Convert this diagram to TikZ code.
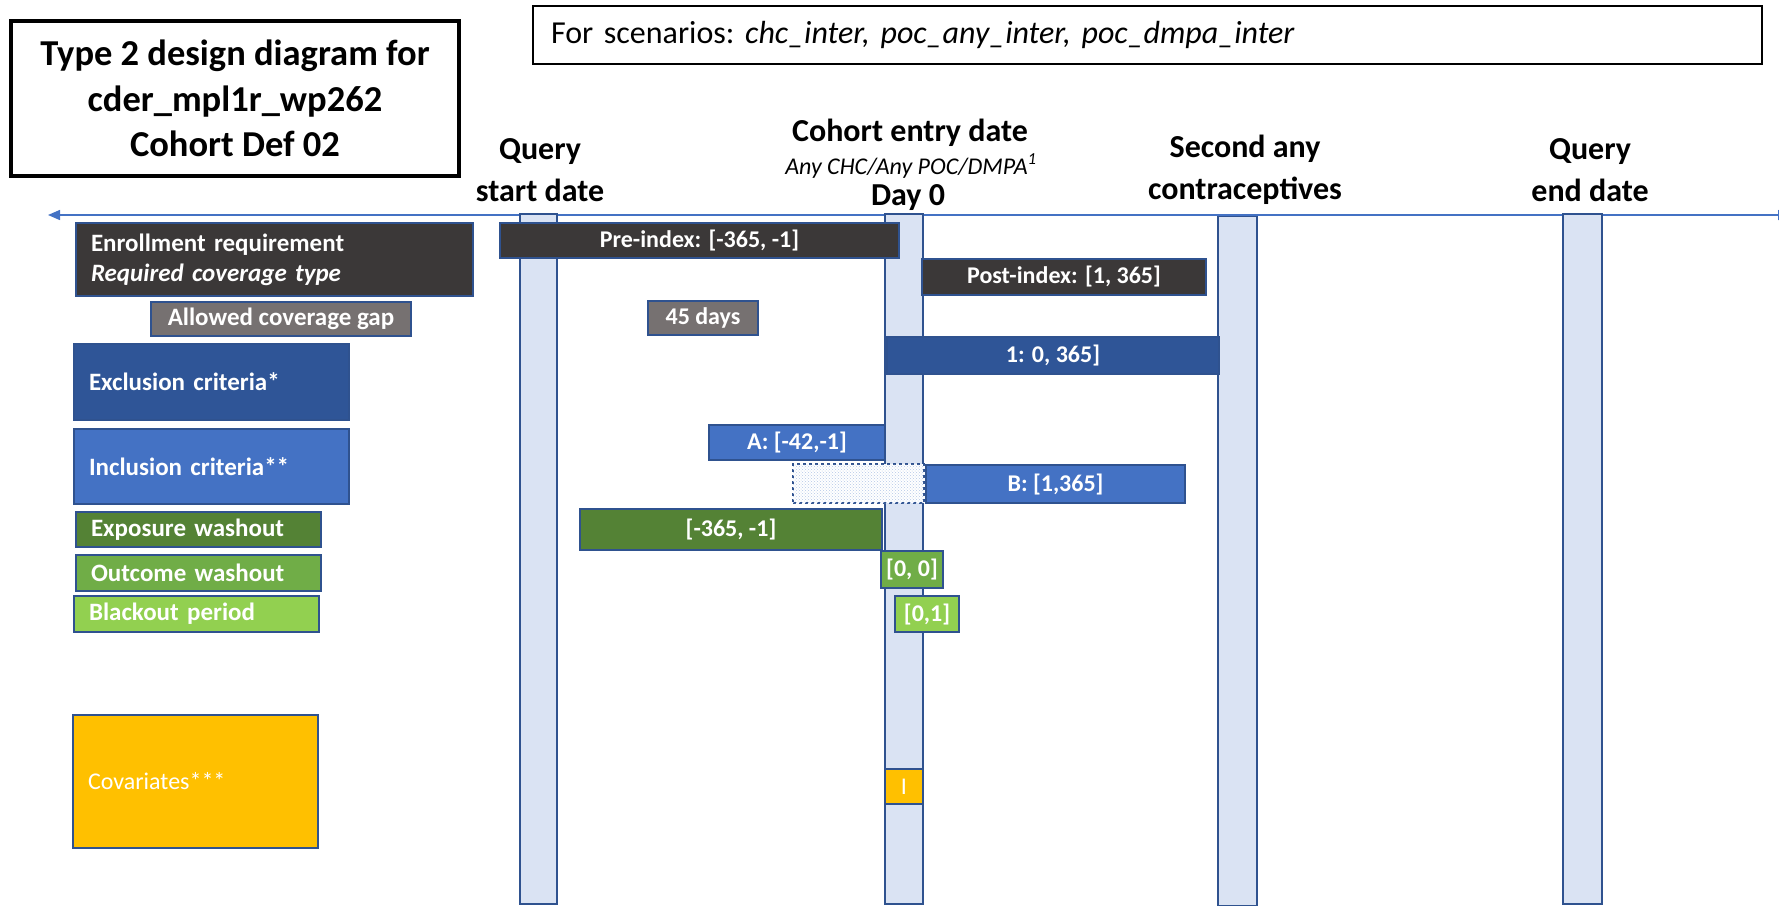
\documentclass[tikz,border=0pt]{standalone}
\usepackage{fontspec}
\setmainfont{Carlito}
\usetikzlibrary{arrows.meta,patterns}

\definecolor{edgeblue}{HTML}{2F528F}
\definecolor{lineblue}{HTML}{4472C4}
\definecolor{vfill}{HTML}{DAE3F3}
\definecolor{darkgrey}{HTML}{3B3838}
\definecolor{gapgrey}{HTML}{767171}
\definecolor{exclblue}{HTML}{2F5597}
\definecolor{inclblue}{HTML}{4472C4}
\definecolor{expogreen}{HTML}{548235}
\definecolor{outgreen}{HTML}{70AD47}
\definecolor{blackgreen}{HTML}{92D050}
\definecolor{covgold}{HTML}{FFC000}
\definecolor{dotblue}{HTML}{B4C7E7}

\tikzset{
  vbar/.style={draw=edgeblue, line width=1.5pt, fill=vfill, inner sep=0pt},
  rowbox/.style={draw=edgeblue, line width=1.5pt, text=white, inner sep=0pt,
    font=\bfseries\fontsize{24}{28}\selectfont},
  rowlabel/.style={rowbox, align=left, inner xsep=15pt,
    font=\bfseries\fontsize{25}{30}\selectfont},
  heading/.style={font=\bfseries\fontsize{32}{42}\selectfont, align=center, inner sep=0pt},
}

\begin{document}
\begin{tikzpicture}[x=1pt,y=-1pt]
\useasboundingbox (0,0) rectangle (1779,906);

% Title and scenarios
\node[draw, line width=4pt, minimum width=448pt, minimum height=155pt, align=center,
  font=\bfseries\fontsize{36.5}{45.5}\selectfont] (title) at (235,98.5)
  {Type 2 design diagram for\\cder\_mpl1r\_wp262\\Cohort Def 02};
\node[draw, line width=2pt, minimum width=1229pt, minimum height=58pt, text width=1193pt,
  inner xsep=18pt, align=left, font=\fontsize{32}{40}\selectfont] (scen) at (1147.5,35)
  {For scenarios:\ \textit{chc\_inter, poc\_any\_inter, poc\_dmpa\_inter}};

% Timeline
\coordinate (tl) at (48,215);
\coordinate (tr) at (1790,215);
\draw[lineblue, line width=1.5pt, {Triangle[length=12pt,width=10pt]}-{Triangle[length=12pt,width=10pt]}] (tl) -- (tr);

% Vertical bars
\node[vbar, minimum width=37pt, minimum height=690pt] (qsbar) at (538.5,559) {};
\node[vbar, minimum width=38pt, minimum height=690pt] (daybar) at (904,559) {};
\node[vbar, minimum width=39pt, minimum height=689pt] (secbar) at (1237.5,561) {};
\node[vbar, minimum width=39pt, minimum height=690pt] (qebar) at (1582.5,559) {};

% Headings
\node[heading] (qslbl) at (540,170) {Query\\start date};
\node[heading, anchor=base] (celbl) at (910,141) {Cohort entry date};
\node[anchor=base, inner sep=0pt, font=\itshape\fontsize{24}{28}\selectfont] (cesub) at (911,174)
  {Any CHC/Any POC/DMPA\textsuperscript{1}};
\node[heading, anchor=base] (daylbl) at (908,205) {Day 0};
\node[heading] (seclbl) at (1245,170) {Second any\\contraceptives};
\node[heading] (qelbl) at (1590,170) {Query\\end date};

% Enrollment
\node[rowlabel, fill=darkgrey, minimum width=397pt, minimum height=73pt, text width=367pt] (enrl) at (274.5,259.5)
  {Enrollment requirement\\\textit{Required coverage type}};
\node[rowbox, fill=darkgrey, minimum width=399pt, minimum height=35pt] (pre) at (699.5,240.5) {Pre-index: [-365, -1]};
\node[rowbox, fill=darkgrey, minimum width=284pt, minimum height=36pt] (post) at (1064,277) {Post-index: [1, 365]};
\node[rowbox, fill=gapgrey, minimum width=260pt, minimum height=34pt, font=\bfseries\fontsize{25}{30}\selectfont] (gap) at (281,319) {Allowed coverage gap};
\node[rowbox, fill=gapgrey, minimum width=110pt, minimum height=34pt] (gapdays) at (703,318) {45 days};

% Exclusion / inclusion
\node[rowlabel, fill=exclblue, minimum width=275pt, minimum height=76pt, text width=245pt] (excl) at (211.5,382) {Exclusion criteria*};
\node[rowbox, fill=exclblue, minimum width=332pt, minimum height=37pt] (exone) at (1053,355.5) {1: 0, 365]};
\node[rowlabel, fill=inclblue, minimum width=275pt, minimum height=75pt, text width=245pt] (incl) at (211.5,466.5) {Inclusion criteria**};
\node[rowbox, fill=inclblue, minimum width=176pt, minimum height=35pt] (inca) at (797,442.5) {A: [-42,-1]};
\node[draw=edgeblue, line width=1.5pt, dashed, fill=white, postaction={pattern=crosshatch dots, pattern color=dotblue},
  minimum width=131pt, minimum height=39pt, inner sep=0pt] (incgap) at (858.5,483.5) {};
\node[rowbox, fill=inclblue, minimum width=259pt, minimum height=38pt] (incb) at (1055.5,484) {B: [1,365]};

% Washouts
\node[rowlabel, fill=expogreen, minimum width=245pt, minimum height=35pt, text width=215pt] (expo) at (198.5,529.5) {Exposure washout};
\node[rowbox, fill=expogreen, minimum width=302pt, minimum height=41pt] (expow) at (731,529.5) {[-365, -1]};
\node[rowlabel, fill=outgreen, minimum width=245pt, minimum height=36pt, text width=215pt] (outc) at (198.5,573) {Outcome washout};
\node[rowbox, fill=outgreen, minimum width=62pt, minimum height=37pt] (outw) at (912,569.5) {[0, 0]};
\node[rowlabel, fill=blackgreen, minimum width=245pt, minimum height=36pt, text width=215pt] (blk) at (196.5,614) {Blackout period};
\node[rowbox, fill=blackgreen, minimum width=64pt, minimum height=36pt] (blkw) at (927,614) {[0,1]};

% Covariates
\node[rowlabel, fill=covgold, minimum width=245pt, minimum height=133pt, text width=215pt,
  font=\fontsize{24}{28}\selectfont] (cov) at (195.5,781.5) {Covariates***};
\node[rowbox, fill=covgold, minimum width=38pt, minimum height=35pt, font=\fontsize{24}{28}\selectfont] (covw) at (904,786.5) {I};
\end{tikzpicture}
\end{document}
